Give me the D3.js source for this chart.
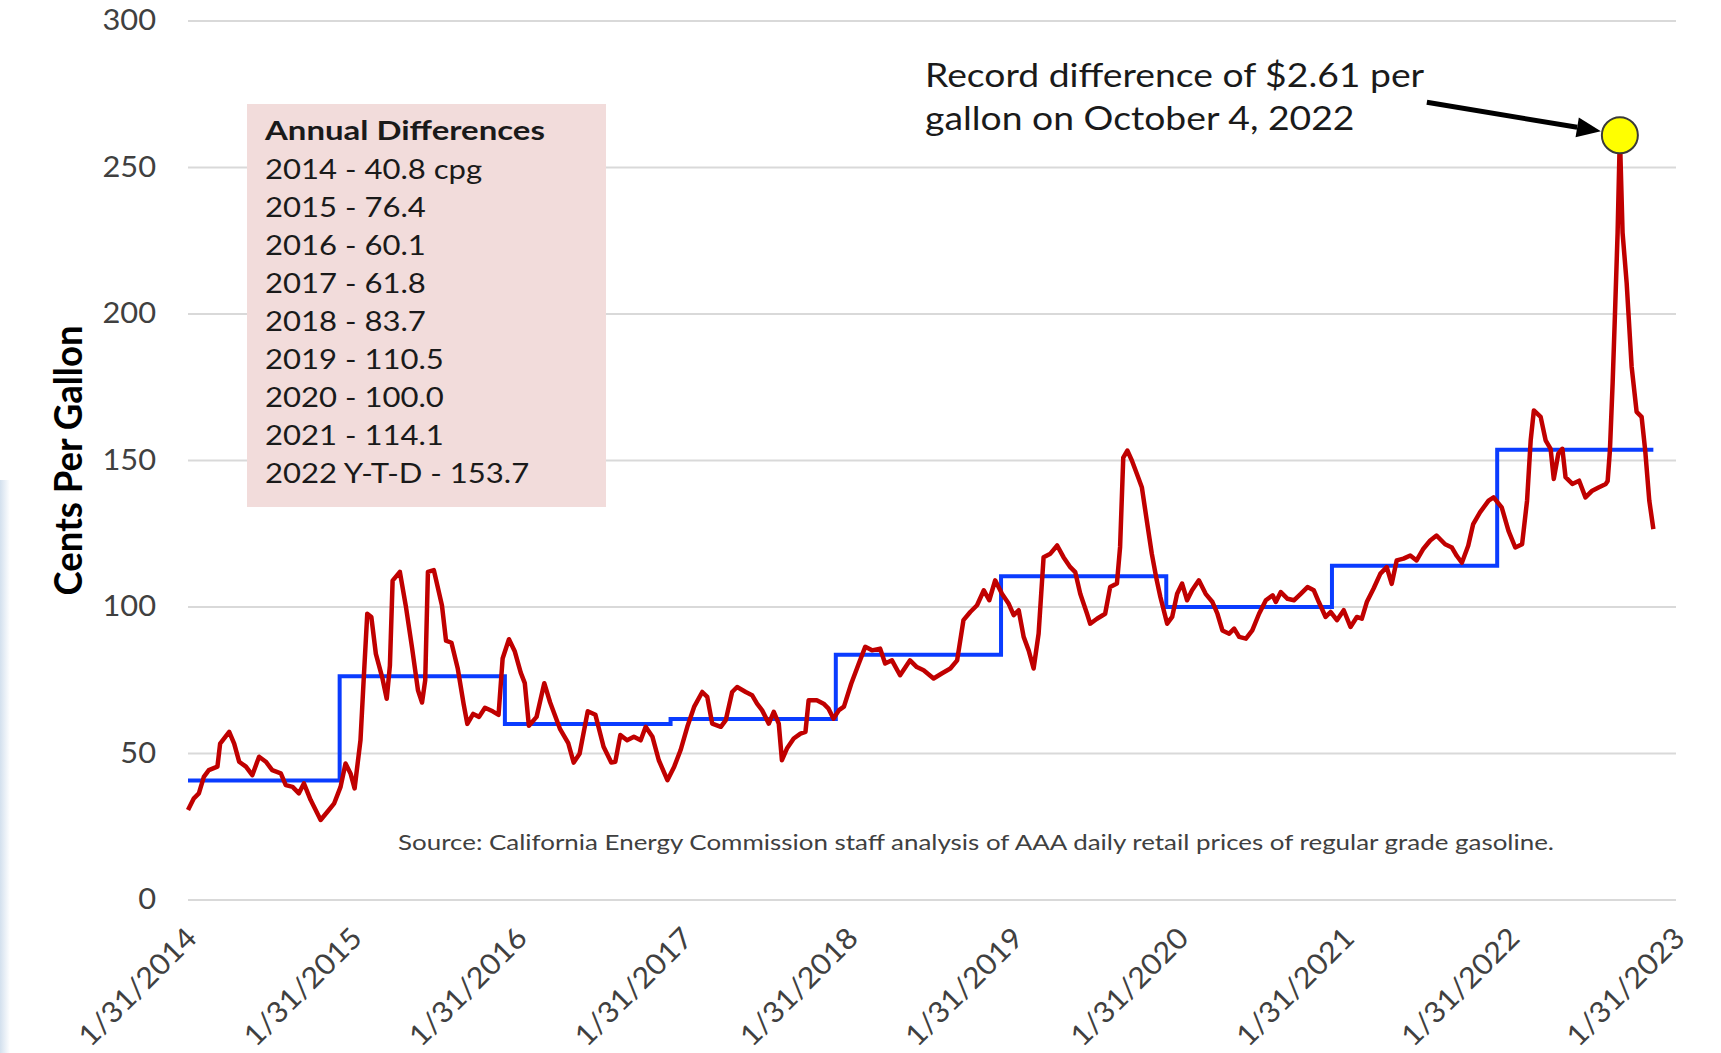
<!DOCTYPE html>
<html>
<head>
<meta charset="utf-8">
<script src="https://cdn.jsdelivr.net/npm/d3@7"></script>
<style>
  html, body { margin: 0; padding: 0; background: #fff; }
  svg { display: block; }
  text { font-family: Lato, "Open Sans", sans-serif; }
</style>
</head>
<body>
<svg id="chart" width="1721" height="1053"></svg>
<script>
// California minus US average retail gasoline price, cents per gallon
var priceDiff = [
  ["2014-01-31", 30.7], ["2014-02-13", 34.7], ["2014-02-24", 36.4], ["2014-03-07", 42.0],
  ["2014-03-18", 44.3], ["2014-04-06", 45.5], ["2014-04-12", 53.4], ["2014-05-02", 57.4],
  ["2014-05-13", 53.4], ["2014-05-24", 47.2], ["2014-06-08", 45.5], ["2014-06-22", 42.6],
  ["2014-07-07", 48.9], ["2014-07-22", 47.2], ["2014-08-05", 44.3], ["2014-08-24", 43.2],
  ["2014-09-04", 39.2], ["2014-09-19", 38.6], ["2014-10-03", 36.4], ["2014-10-14", 39.8],
  ["2014-10-29", 34.1], ["2014-11-20", 27.3], ["2014-12-05", 30.1], ["2014-12-20", 33.0],
  ["2015-01-03", 38.6], ["2015-01-14", 46.6], ["2015-01-25", 43.2], ["2015-02-03", 38.1],
  ["2015-02-16", 54.5], ["2015-02-23", 75.0], ["2015-03-03", 97.7], ["2015-03-12", 96.6],
  ["2015-03-22", 84.0], ["2015-04-05", 76.0], ["2015-04-15", 68.7], ["2015-04-22", 80.0],
  ["2015-04-28", 109.0], ["2015-05-14", 112.0], ["2015-05-27", 100.5], ["2015-06-10", 86.0],
  ["2015-06-23", 71.6], ["2015-07-02", 67.4], ["2015-07-09", 75.0], ["2015-07-15", 112.0],
  ["2015-07-28", 112.6], ["2015-08-15", 100.5], ["2015-08-24", 88.5], ["2015-09-05", 87.8],
  ["2015-09-19", 78.9], ["2015-10-02", 66.8], ["2015-10-10", 60.1], ["2015-10-23", 63.5],
  ["2015-11-05", 62.5], ["2015-11-18", 65.6], ["2015-12-05", 64.4], ["2015-12-18", 63.2],
  ["2015-12-27", 82.4], ["2016-01-10", 89.0], ["2016-01-23", 84.8], ["2016-02-05", 77.6],
  ["2016-02-14", 74.0], ["2016-02-23", 59.5], ["2016-03-11", 62.5], ["2016-03-28", 74.0],
  ["2016-04-10", 67.4], ["2016-05-02", 58.3], ["2016-05-20", 53.5], ["2016-06-01", 46.9],
  ["2016-06-14", 49.9], ["2016-07-02", 64.4], ["2016-07-19", 63.2], ["2016-08-06", 52.3],
  ["2016-08-23", 46.9], ["2016-09-01", 47.2], ["2016-09-12", 56.3], ["2016-09-27", 54.5],
  ["2016-10-12", 55.7], ["2016-10-27", 54.5], ["2016-11-07", 59.1], ["2016-11-22", 55.7],
  ["2016-12-06", 47.7], ["2016-12-25", 40.9], ["2017-01-09", 45.5], ["2017-01-23", 51.1],
  ["2017-02-07", 59.1], ["2017-02-22", 65.9], ["2017-03-12", 71.0], ["2017-03-23", 69.3],
  ["2017-04-03", 60.2], ["2017-04-22", 59.1], ["2017-05-03", 61.4], ["2017-05-17", 71.0],
  ["2017-05-28", 72.7], ["2017-06-16", 71.0], ["2017-06-30", 69.9], ["2017-07-11", 67.0],
  ["2017-07-22", 64.8], ["2017-08-06", 60.2], ["2017-08-17", 64.2], ["2017-08-28", 60.2],
  ["2017-09-04", 47.7], ["2017-09-15", 51.7], ["2017-09-30", 55.1], ["2017-10-15", 56.8],
  ["2017-10-26", 57.4], ["2017-11-02", 68.2], ["2017-11-20", 68.2], ["2017-12-05", 67.0],
  ["2017-12-16", 65.3], ["2017-12-27", 61.9], ["2018-01-08", 64.8], ["2018-01-19", 66.0],
  ["2018-02-04", 73.8], ["2018-02-20", 80.4], ["2018-03-07", 86.4], ["2018-03-22", 85.2],
  ["2018-04-09", 85.8], ["2018-04-20", 80.7], ["2018-05-05", 81.8], ["2018-05-23", 76.7],
  ["2018-06-14", 81.8], ["2018-06-29", 79.5], ["2018-07-14", 78.4], ["2018-08-05", 75.6],
  ["2018-08-23", 77.3], ["2018-09-11", 79.0], ["2018-09-26", 81.8], ["2018-10-10", 95.5],
  ["2018-10-25", 98.3], ["2018-11-09", 100.6], ["2018-11-24", 105.7], ["2018-12-06", 102.3],
  ["2018-12-19", 109.1], ["2019-01-03", 104.5], ["2019-01-18", 101.1], ["2019-01-29", 97.2],
  ["2019-02-09", 98.9], ["2019-02-20", 89.8], ["2019-03-03", 85.2], ["2019-03-14", 79.0],
  ["2019-03-25", 90.9], ["2019-04-05", 117.0], ["2019-04-20", 118.2], ["2019-05-05", 121.0],
  ["2019-05-19", 117.0], ["2019-06-03", 113.6], ["2019-06-14", 111.9], ["2019-06-25", 104.5],
  ["2019-07-10", 97.7], ["2019-07-17", 94.3], ["2019-08-01", 96.0], ["2019-08-19", 97.7],
  ["2019-08-30", 106.8], ["2019-09-14", 108.0], ["2019-09-21", 120.5], ["2019-09-28", 151.0],
  ["2019-10-07", 153.4], ["2019-10-17", 150.0], ["2019-10-28", 145.5], ["2019-11-08", 140.9],
  ["2019-11-19", 129.5], ["2019-11-30", 118.2], ["2019-12-11", 109.1], ["2019-12-19", 103.4],
  ["2020-01-03", 94.3], ["2020-01-14", 96.6], ["2020-01-25", 104.5], ["2020-02-05", 108.0],
  ["2020-02-16", 102.3], ["2020-02-27", 105.7], ["2020-03-13", 109.1], ["2020-03-28", 104.5],
  ["2020-04-12", 101.7], ["2020-04-23", 97.7], ["2020-05-04", 92.0], ["2020-05-19", 90.9],
  ["2020-05-30", 92.6], ["2020-06-10", 89.8], ["2020-06-25", 89.2], ["2020-07-09", 92.0],
  ["2020-07-24", 97.7], ["2020-08-08", 102.3], ["2020-08-23", 104.0], ["2020-08-30", 101.7],
  ["2020-09-10", 105.1], ["2020-09-25", 102.8], ["2020-10-09", 102.3], ["2020-10-24", 104.5],
  ["2020-11-08", 106.8], ["2020-11-22", 105.7], ["2020-12-03", 101.7], ["2020-12-18", 96.6],
  ["2020-12-29", 98.3], ["2021-01-12", 95.5], ["2021-01-27", 98.9], ["2021-02-11", 93.2],
  ["2021-02-25", 96.6], ["2021-03-08", 96.0], ["2021-03-19", 101.7], ["2021-04-03", 106.3],
  ["2021-04-18", 111.4], ["2021-05-02", 113.6], ["2021-05-13", 107.9], ["2021-05-24", 115.9],
  ["2021-06-08", 116.5], ["2021-06-23", 117.6], ["2021-07-07", 115.9], ["2021-07-22", 119.9],
  ["2021-08-06", 122.7], ["2021-08-20", 124.4], ["2021-09-08", 121.4], ["2021-09-23", 120.3],
  ["2021-10-04", 117.4], ["2021-10-15", 115.1], ["2021-10-29", 120.9], ["2021-11-09", 128.3],
  ["2021-11-24", 132.3], ["2021-12-13", 136.3], ["2021-12-24", 137.4], ["2022-01-11", 134.0],
  ["2022-01-26", 126.0], ["2022-02-10", 120.3], ["2022-02-25", 121.4], ["2022-03-08", 136.3],
  ["2022-03-16", 156.9], ["2022-03-23", 167.1], ["2022-04-07", 164.9], ["2022-04-18", 156.9],
  ["2022-04-29", 154.0], ["2022-05-06", 143.7], ["2022-05-16", 152.3], ["2022-05-25", 154.0],
  ["2022-06-01", 144.3], ["2022-06-16", 142.0], ["2022-07-01", 143.1], ["2022-07-15", 137.4],
  ["2022-07-30", 139.7], ["2022-08-14", 140.9], ["2022-08-29", 142.0], ["2022-09-02", 143.0],
  ["2022-09-07", 153.4], ["2022-09-13", 176.3], ["2022-09-18", 199.1], ["2022-09-24", 227.7],
  ["2022-09-29", 261.0], ["2022-10-05", 227.7], ["2022-10-14", 210.6], ["2022-10-25", 182.0],
  ["2022-11-05", 166.6], ["2022-11-16", 164.9], ["2022-11-24", 153.4], ["2022-12-03", 136.3],
  ["2022-12-12", 126.6]
];

// annual averages (blue steps)
var yearStarts = ["2014-01-31", "2015-01-01", "2016-01-01", "2017-01-01", "2018-01-01",
                  "2019-01-01", "2020-01-01", "2021-01-01", "2022-01-01"];
var annualAvg = [40.8, 76.4, 60.1, 61.8, 83.7, 110.5, 100.0, 114.1, 153.7];
var annualLabels = ["2014", "2015", "2016", "2017", "2018", "2019", "2020", "2021", "2022 Y-T-D"];
var seriesEnd = "2022-12-12";

var yTicks = [0, 50, 100, 150, 200, 250, 300];
var xTicks = ["2014-01-31", "2015-01-31", "2016-01-31", "2017-01-31", "2018-01-31",
              "2019-01-31", "2020-01-31", "2021-01-31", "2022-01-31", "2023-01-31"];

// record point as it sits on the plotted series
var peak = { date: "2022-09-29", value: 261 };
var noteLines = ["Record difference of $2.61 per", "gallon on October 4, 2022"];
var sourceNote = "Source: California Energy Commission staff analysis of AAA daily retail prices of regular grade gasoline.";

var parse = d3.timeParse("%Y-%m-%d");
var svg = d3.select("#chart");

var x = d3.scaleTime()
    .domain([parse(xTicks[0]), parse(xTicks[xTicks.length - 1])])
    .range([188, 1676]);
var y = d3.scaleLinear().domain([0, 300]).range([900, 21]);

// stretch text horizontally to mimic the wide rendering in the source image
function stretch(sel, k) {
    sel.each(function() {
        var w = this.getComputedTextLength();
        d3.select(this).attr("textLength", w * k).attr("lengthAdjust", "spacingAndGlyphs");
    });
}

// faint screen edge on the left
var defs = svg.append("defs");
var edge = defs.append("linearGradient").attr("id", "edge");
edge.append("stop").attr("offset", "0%").attr("stop-color", "#d3e0ee");
edge.append("stop").attr("offset", "100%").attr("stop-color", "#ffffff");
svg.append("rect")
    .attr("x", 0).attr("y", 480).attr("width", 10).attr("height", 573)
    .attr("fill", "url(#edge)");

// gridlines
svg.append("g").attr("class", "grid")
    .selectAll("line")
    .data(yTicks)
    .join("line")
    .attr("x1", x.range()[0]).attr("x2", x.range()[1])
    .attr("y1", y).attr("y2", y)
    .attr("stroke", "#d9d9d9")
    .attr("stroke-width", 2);

// y axis labels
var yAxis = svg.append("g")
    .attr("transform", "translate(" + x.range()[0] + ",0)")
    .call(d3.axisLeft(y).tickValues(yTicks).tickSize(0).tickPadding(32));
yAxis.select(".domain").remove();
yAxis.selectAll("text")
    .attr("font-family", "Lato, sans-serif")
    .attr("font-size", 28)
    .attr("fill", "#404040")
    .call(stretch, 1.1);

// x axis labels
var xAxis = svg.append("g")
    .attr("transform", "translate(0," + y(0) + ")")
    .call(d3.axisBottom(x)
        .tickValues(xTicks.map(parse))
        .tickFormat(d3.timeFormat("%-m/%d/%Y"))
        .tickSize(0));
xAxis.select(".domain").remove();
xAxis.selectAll("text")
    .attr("font-family", "Lato, sans-serif")
    .attr("font-size", 29)
    .attr("fill", "#404040")
    .attr("x", 0).attr("y", 0).attr("dy", null)
    .attr("text-anchor", "end")
    .attr("transform", "translate(10,40) rotate(-45)")
    .call(stretch, 1.06);

// y axis title
svg.append("text")
    .attr("transform", "translate(67," + y(150) + ") rotate(-90)")
    .attr("text-anchor", "middle")
    .attr("dominant-baseline", "central")
    .attr("font-size", 39)
    .attr("font-weight", "bold")
    .attr("fill", "#000")
    .text("Cents Per Gallon")
    .attr("textLength", 270)
    .attr("lengthAdjust", "spacingAndGlyphs");

// annual differences box
var box = svg.append("g").attr("class", "legend");
box.append("rect")
    .attr("x", 247).attr("y", 104).attr("width", 359).attr("height", 403)
    .attr("fill", "#f2dcdb");
box.append("text")
    .attr("x", 265).attr("y", 140)
    .attr("font-size", 27).attr("font-weight", "bold").attr("fill", "#1a1a1a")
    .text("Annual Differences")
    .call(stretch, 1.22);
box.selectAll("text.row")
    .data(annualAvg)
    .join("text")
    .attr("class", "row")
    .attr("x", 265)
    .attr("y", function(d, i) { return 178.5 + i * 38.1; })
    .attr("font-size", 27).attr("fill", "#1a1a1a")
    .text(function(d, i) { return annualLabels[i] + " - " + d.toFixed(1) + (i === 0 ? " cpg" : ""); })
    .call(stretch, 1.15);

// annual average steps
var steps = yearStarts.map(function(d, i) { return [parse(d), annualAvg[i]]; });
steps.push([parse(seriesEnd), annualAvg[annualAvg.length - 1]]);
svg.append("path")
    .datum(steps)
    .attr("fill", "none")
    .attr("stroke", "#0a3cff")
    .attr("stroke-width", 4)
    .attr("d", d3.line()
        .curve(d3.curveStepAfter)
        .x(function(d) { return x(d[0]); })
        .y(function(d) { return y(d[1]); }));

// daily difference line
svg.append("path")
    .datum(priceDiff)
    .attr("fill", "none")
    .attr("stroke", "#c00000")
    .attr("stroke-width", 4.5)
    .attr("stroke-linejoin", "round")
    .attr("d", d3.line()
        .x(function(d) { return x(parse(d[0])); })
        .y(function(d) { return y(d[1]); }));

// record marker and callout
var px = x(parse(peak.date)), py = y(peak.value);
svg.append("ellipse")
    .attr("cx", px).attr("cy", py).attr("rx", 18).attr("ry", 18)
    .attr("fill", "#ffff00")
    .attr("stroke", "#3a3a3a")
    .attr("stroke-width", 2);

var tip = [px - 19, py - 4], tail = [px - 193, py - 33];
var ang = Math.atan2(tip[1] - tail[1], tip[0] - tail[0]);
var headLen = 24, headW = 10;
var base = [tip[0] - headLen * Math.cos(ang), tip[1] - headLen * Math.sin(ang)];
svg.append("line")
    .attr("x1", tail[0]).attr("y1", tail[1])
    .attr("x2", base[0]).attr("y2", base[1])
    .attr("stroke", "#000").attr("stroke-width", 5);
svg.append("path")
    .attr("d", "M" + tip + "L" + [base[0] + headW * Math.sin(ang), base[1] - headW * Math.cos(ang)] +
               "L" + [base[0] - headW * Math.sin(ang), base[1] + headW * Math.cos(ang)] + "Z")
    .attr("fill", "#000");

svg.append("g").selectAll("text")
    .data(noteLines)
    .join("text")
    .attr("x", 925)
    .attr("y", function(d, i) { return 86.5 + i * 43; })
    .attr("font-size", 33)
    .attr("fill", "#1a1a1a")
    .text(function(d) { return d; })
    .call(stretch, 1.13);

svg.append("text")
    .attr("x", 398).attr("y", 850)
    .attr("font-size", 22)
    .attr("fill", "#404040")
    .text(sourceNote)
    .attr("textLength", 1156)
    .attr("lengthAdjust", "spacingAndGlyphs");
</script>
</body>
</html>
